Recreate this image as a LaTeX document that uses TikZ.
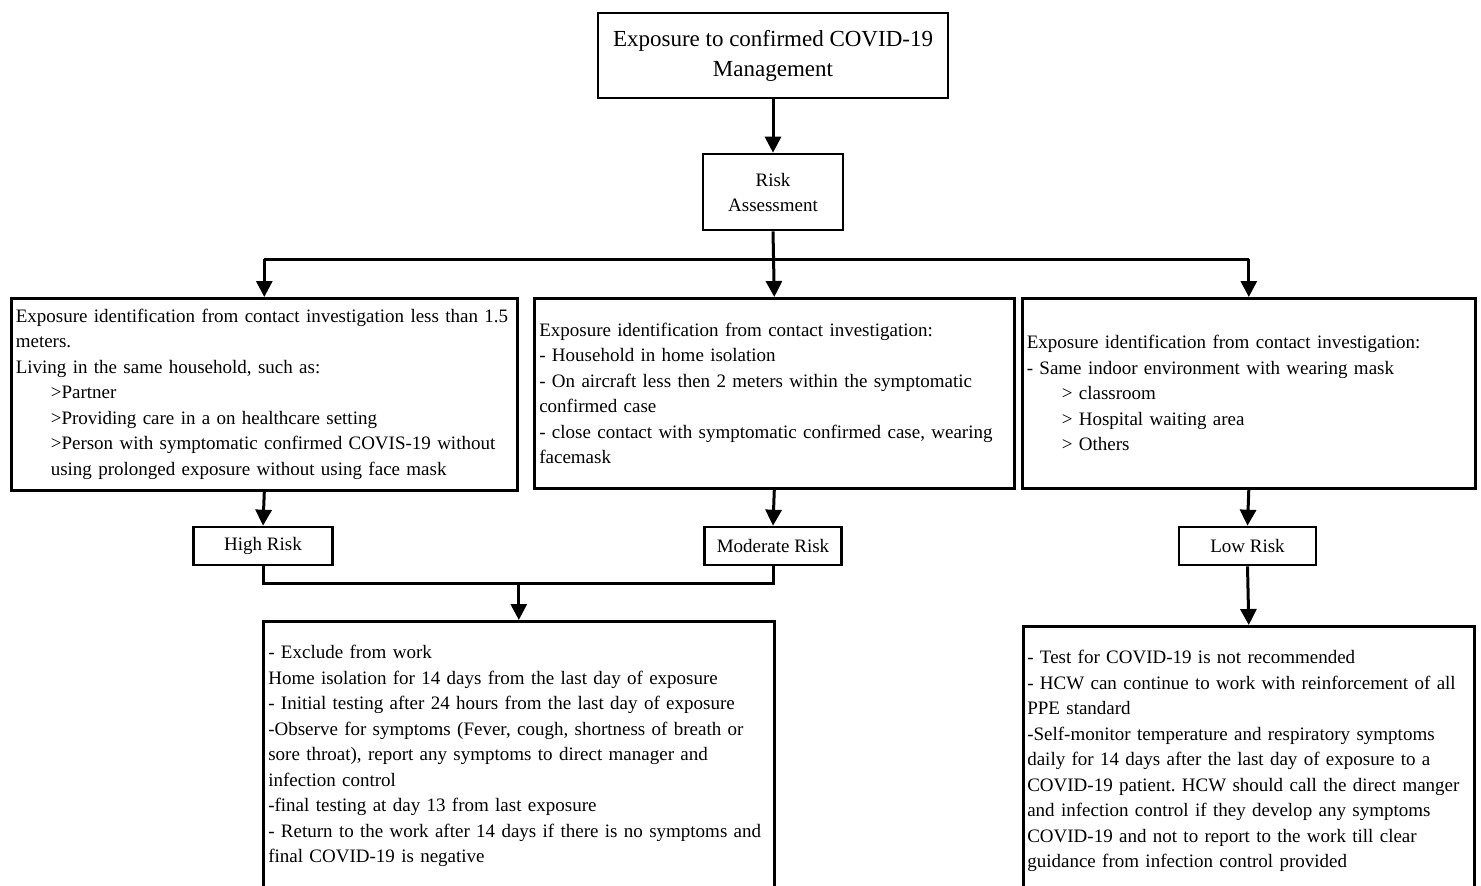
\documentclass[tikz,border=0pt]{standalone}
\usepackage{fontspec}
\setmainfont{Liberation Serif}
\usetikzlibrary{arrows.meta}
\frenchspacing
\begin{document}
\begin{tikzpicture}[x=1pt,y=-1pt,
  box/.style={draw, line width=2.6pt, inner sep=0pt},
  txt/.style={font=\fontsize{19}{25.5}\selectfont, align=left},
  ctxt/.style={font=\fontsize{19}{25}\selectfont, align=center},
  conn/.style={line width=3pt},
  arr/.style={conn, -{Triangle[length=16pt,width=16pt]}}]
\useasboundingbox (0,0) rectangle (1481,886);
\clip (0,0) rectangle (1481,886);
\fill[white] (0,0) rectangle (1481,886);

\node[box, font=\fontsize{23}{30}\selectfont, align=center, minimum width=350pt, minimum height=85pt] (top) at (773,55.5) {Exposure to confirmed COVID-19\\Management};
\node[box, ctxt, minimum width=140pt, minimum height=76pt] (risk) at (773,192) {Risk\\Assessment};

\node[box, txt, anchor=north west, minimum width=506pt, minimum height=192pt, text width=497pt] (b1) at (10,297) {Exposure identification from contact investigation less than 1.5\\
meters.\\
Living in the same household, such as:\\
\hspace*{35pt}>Partner\\
\hspace*{35pt}>Providing care in a on healthcare setting\\
\hspace*{35pt}>Person with symptomatic confirmed COVIS-19 without\\
\hspace*{35pt}using prolonged exposure without using face mask};

\node[box, txt, anchor=north west, minimum width=480pt, minimum height=190pt, text width=470pt] (b2) at (533,297) {Exposure identification from contact investigation:\\
- Household in home isolation\\
- On aircraft less then 2 meters within the symptomatic\\
confirmed case\\
- close contact with symptomatic confirmed case, wearing\\
facemask};

\node[box, txt, anchor=north west, minimum width=453pt, minimum height=190pt, text width=444pt] (b3) at (1021,297) {Exposure identification from contact investigation:\\
- Same indoor environment with wearing mask\\
\hspace*{35pt}> classroom\\
\hspace*{35pt}> Hospital waiting area\\
\hspace*{35pt}> Others};

\node[box, ctxt, minimum width=139pt, minimum height=38pt] (high) at (263,546) {High Risk};
\node[box, ctxt, minimum width=137pt, minimum height=38pt] (mod) at (773,546) {Moderate Risk};
\node[box, ctxt, minimum width=137pt, minimum height=38pt] (low) at (1247.5,546) {Low Risk};

\node[box, txt, anchor=north west, minimum width=511pt, minimum height=270pt, text width=501pt] (act) at (262,620) {- Exclude from work\\
Home isolation for 14 days from the last day of exposure\\
- Initial testing after 24 hours from the last day of exposure\\
-Observe for symptoms (Fever, cough, shortness of breath or\\
sore throat), report any symptoms to direct manager and\\
infection control\\
-final testing at day 13 from last exposure\\
- Return to the work after 14 days if there is no symptoms and\\
final COVID-19 is negative};

\node[box, txt, anchor=north west, minimum width=451pt, minimum height=270pt, text width=443pt] (lowact) at (1022,625) {- Test for COVID-19 is not recommended\\
- HCW can continue to work with reinforcement of all\\
PPE standard\\
-Self-monitor temperature and respiratory symptoms\\
daily for 14 days after the last day of exposure to a\\
COVID-19 patient. HCW should call the direct manger\\
and infection control if they develop any symptoms\\
COVID-19 and not to report to the work till clear\\
guidance from infection control provided};

\coordinate (j1) at (773,259);
\coordinate (j2) at (act.north |- 0,583);

\draw[arr] (top.south) -- (risk.north);
\draw[arr] (risk.south) -- (b2.north);
\draw[conn] (b1.north |- j1) -- (b3.north |- j1);
\draw[arr] (b1.north |- j1) -- (b1.north);
\draw[arr] (b3.north |- j1) -- (b3.north);
\draw[arr] (b1.south) -- (high.north);
\draw[arr] (b2.south) -- (mod.north);
\draw[arr] (b3.south) -- (low.north);
\draw[conn] (high.south) |- (j2) -| (mod.south);
\draw[arr] (j2) -- (act.north);
\draw[arr] (low.south) -- (lowact.north);
\end{tikzpicture}
\end{document}
